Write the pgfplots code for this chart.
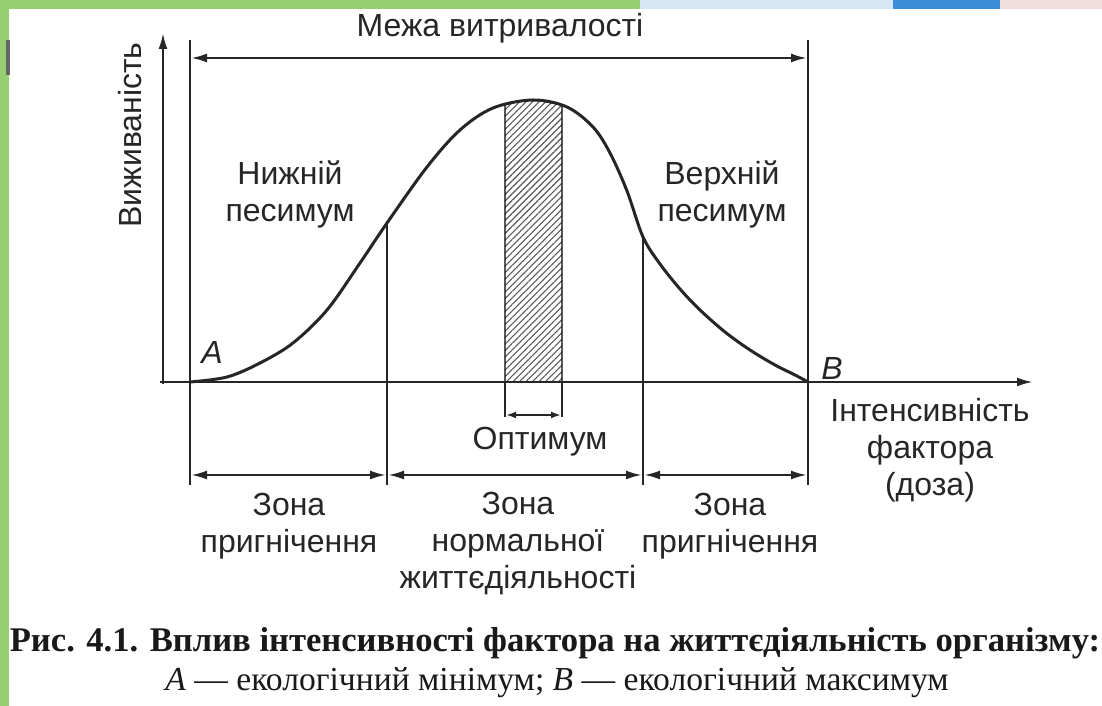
\documentclass[border=0pt]{standalone}
\usepackage{fontspec}
\setmainfont{Liberation Sans}
\newfontfamily\capfont{Liberation Serif}
\usepackage{pgfplots}
\pgfplotsset{compat=1.18}
\usetikzlibrary{arrows.meta,patterns.meta}
\definecolor{bgreen}{RGB}{150,206,112}
\definecolor{bblue}{RGB}{60,140,215}
\definecolor{lblue}{RGB}{215,230,245}
\definecolor{bpink}{RGB}{240,222,222}
\tikzset{lab/.style={font=\fontsize{16}{18.5}\selectfont,text=black!85,inner sep=0pt}}
\begin{document}
\begin{tikzpicture}
\begin{axis}[x=0.5pt,y=0.5pt,xmin=0,xmax=1102,ymin=0,ymax=706,hide axis,clip=false,scale only axis]
% background and frame strips
\addplot[fill=white,draw=none] coordinates {(0,0)(1102,0)(1102,706)(0,706)} --cycle;
\addplot[fill=bgreen,draw=none] coordinates {(0,0)(9,0)(9,706)(0,706)} --cycle;
\addplot[fill=bgreen,draw=none] coordinates {(0,697)(640,697)(640,706)(0,706)} --cycle;
\addplot[fill=lblue,draw=none] coordinates {(640,697)(893,697)(893,706)(640,706)} --cycle;
\addplot[fill=bblue,draw=none] coordinates {(893,697)(1000,697)(1000,706)(893,706)} --cycle;
\addplot[fill=bpink,draw=none] coordinates {(1000,697)(1102,697)(1102,706)(1000,706)} --cycle;
\addplot[line width=2pt,black!60] coordinates {(8,666)(8,631)};
% hatched optimum
\addplot[pattern={Lines[angle=45,distance=2.3pt,line width=0.55pt]},pattern color=black!65,draw=black,line width=0.7pt]
  coordinates {(505,324)(505,602)(520,605)(533,606)(548,604)(562,601)(562,324)} --cycle;
% curve
\addplot[smooth,tension=0.55,line width=1.5pt,black!85] coordinates {
(190,324)(227,329)(260,343)(293,363)(327,396)(360,443)(387,483)(427,539)(460,576)(493,598)(533,606)
(567,599)(593,579)(610,553)(627,515)(643,469)(660,442)(680,417)(700,396)(725,374)(750,356)(775,341)(795,331)(808,324)};
% axes
\addplot[line width=1.2pt,black!85,-{Latex[length=8pt,width=4.5pt]}] coordinates {(163,322)(163,673)};
\addplot[line width=1.2pt,black!85,-{Latex[length=8pt,width=4.5pt]}] coordinates {(160,324)(1033,324)};
% vertical limits
\addplot[line width=1.1pt,black!85] coordinates {(190,666)(190,221)};
\addplot[line width=1.1pt,black!85] coordinates {(808,666)(808,221)};
\addplot[line width=1.1pt,black!85] coordinates {(387,483)(387,221)};
\addplot[line width=1.1pt,black!85] coordinates {(643,469)(643,221)};
\addplot[line width=1.1pt,black!85] coordinates {(505,324)(505,289)};
\addplot[line width=1.1pt,black!85] coordinates {(562,324)(562,289)};
% double arrows
\addplot[line width=1.2pt,black!85,{Latex[length=8pt,width=4.5pt]}-{Latex[length=8pt,width=4.5pt]}] coordinates {(191,648)(807,648)};
\addplot[line width=1.2pt,black!85,{Latex[length=8pt,width=4.5pt]}-{Latex[length=8pt,width=4.5pt]}] coordinates {(191,231)(386,231)};
\addplot[line width=1.2pt,black!85,{Latex[length=8pt,width=4.5pt]}-{Latex[length=8pt,width=4.5pt]}] coordinates {(388,231)(642,231)};
\addplot[line width=1.2pt,black!85,{Latex[length=8pt,width=4.5pt]}-{Latex[length=8pt,width=4.5pt]}] coordinates {(644,231)(807,231)};
\addplot[line width=1pt,black!85,{Latex[length=5pt,width=3.5pt]}-{Latex[length=5pt,width=3.5pt]}] coordinates {(506,291)(561,291)};
% labels
\node[lab] at (axis cs:500,678) {Межа витривалості};
\node[lab,rotate=90] at (axis cs:130,571) {Виживаність};
\node[lab,align=center] at (axis cs:290,512) {Нижній\\песимум};
\node[lab,align=center] at (axis cs:722,512) {Верхній\\песимум};
\node[lab] at (axis cs:212,354) {\itshape A};
\node[lab] at (axis cs:832,338) {\itshape B};
\node[lab,align=center] at (axis cs:930,256) {Інтенсивність\\фактора\\(доза)};
\node[lab] at (axis cs:540,264) {Оптимум};
\node[lab,align=center] at (axis cs:289,180) {Зона\\пригнічення};
\node[lab,align=center] at (axis cs:518,162) {Зона\\нормальної\\життєдіяльності};
\node[lab,align=center] at (axis cs:730,180) {Зона\\пригнічення};
\node[font=\capfont\bfseries\fontsize{17.3}{19}\selectfont,inner sep=0pt,text=black!90] at (axis cs:555,63) {Рис. 4.1. Вплив інтенсивності фактора на життєдіяльність організму:};
\node[font=\capfont\fontsize{16.8}{19}\selectfont,inner sep=0pt,text=black!90] at (axis cs:557,23) {\textit{A} — екологічний мінімум; \textit{B} — екологічний максимум};
\end{axis}
\end{tikzpicture}
\end{document}
